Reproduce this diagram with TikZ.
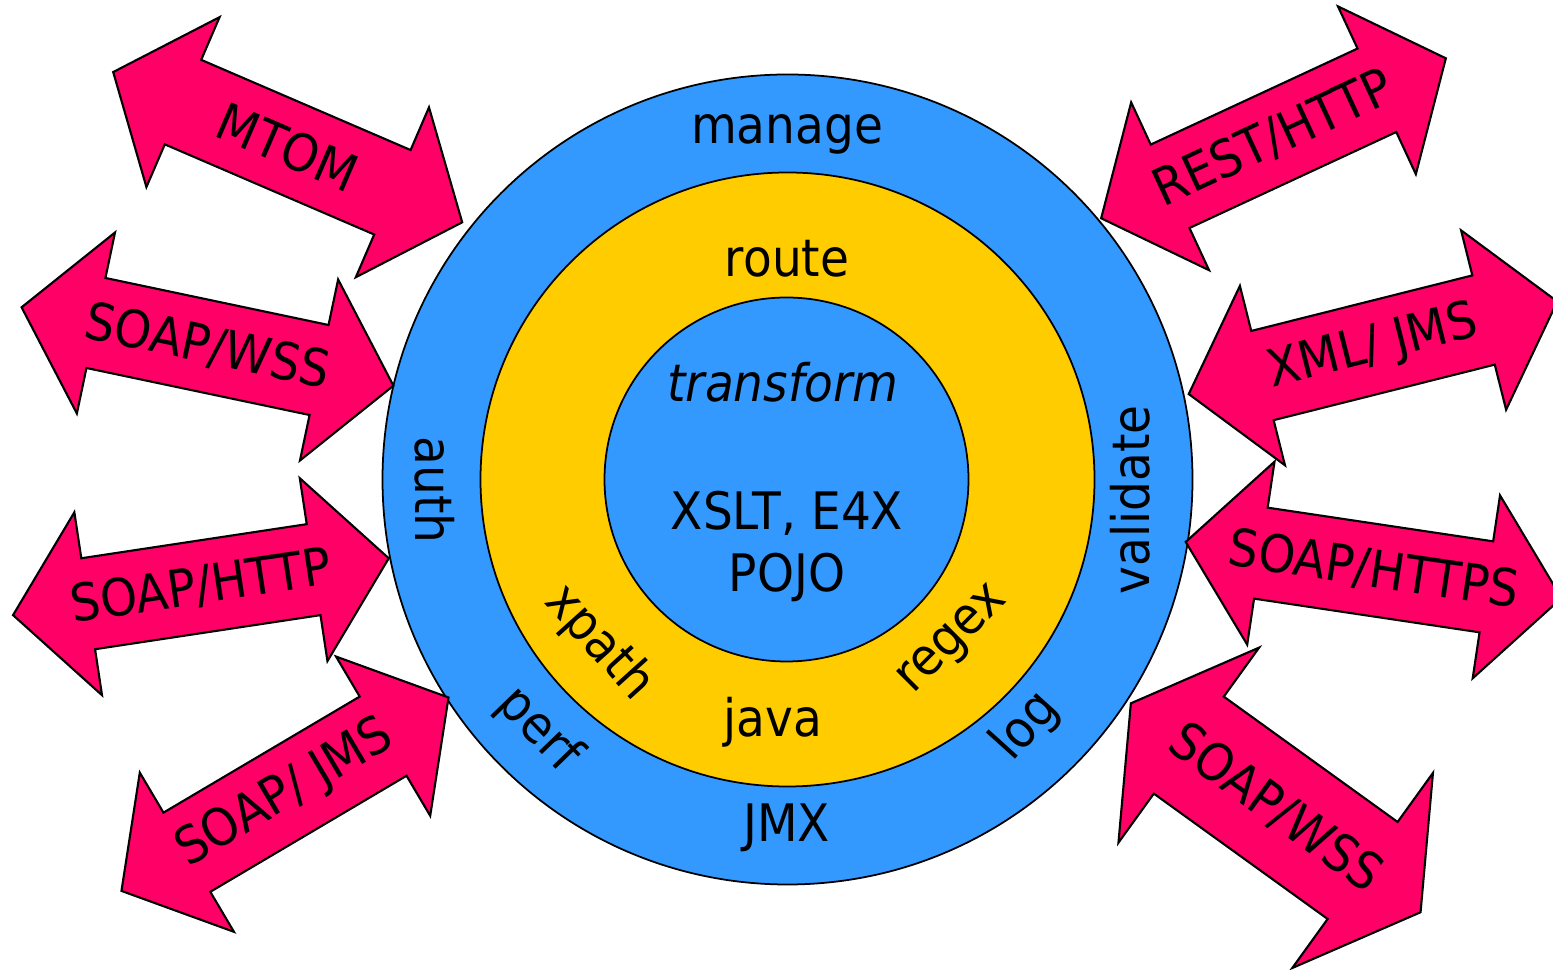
\documentclass[tikz,border=0pt]{standalone}
\usepackage{fontspec}
\setmainfont{DejaVu Sans}[FakeStretch=0.91]

\definecolor{ringblue}{HTML}{3399FF}
\definecolor{ringyellow}{HTML}{FFCC00}
\definecolor{arrowpink}{HTML}{FF0066}

\begin{document}
\begin{tikzpicture}[line width=0.5pt,
    ring/.style={circle,draw,inner sep=0pt},
    word/.style={font=\fontsize{14.7}{17}\selectfont,inner sep=0pt},
    arrowbody/.style={draw,fill=arrowpink,line width=0.6pt,line join=miter}]

    \useasboundingbox (0,0) rectangle (15.53,9.70);

    % the three rings
    \node[ring,fill=ringblue,minimum size=8.10cm] (outer) at (7.875,4.905) {};
    \node[ring,fill=ringyellow,minimum size=6.14cm] (middle) at (7.875,4.905) {};
    \node[ring,fill=ringblue,minimum size=3.64cm] (inner) at (7.865,4.905) {};

    % outer ring
    \node[word,anchor=base] (manage) at (7.87,8.26) {manage};
    \node[word,anchor=base,rotate=-90] (auth) at (4.15,4.80) {auth};
    \node[word,anchor=base,rotate=90] (validate) at (11.49,4.70) {validate};
    \node[word,rotate=-46] (perf) at (5.384,2.40) {perf};
    \node[word,rotate=48] (log) at (10.263,2.433) {log};
    \node[word,anchor=base] (jmx) at (7.865,1.283) {JMX};

    % middle ring
    \node[word,anchor=base] (route) at (7.87,6.93) {route};
    \node[word,rotate=-48] (xpath) at (5.99,3.27) {xpath};
    \node[word,rotate=45] (regex) at (9.545,3.285) {regex};
    \node[word,anchor=base] (java) at (7.73,2.333) {java};

    % inner circle
    \node[word,anchor=base] (transform) at (7.83,5.685) {\itshape transform};
    \node[word,anchor=base] (xslt) at (7.87,4.40) {XSLT, E4X};
    \node[word,anchor=base] (pojo) at (7.87,3.783) {POJO};

    % protocol arrows
    \foreach \x/\y/\r/\sx/\sy/\name/\txt in {
        2.877/8.228/-23.3/1/1/mtom/MTOM,
        2.075/6.235/-11.9/1/1/soapwssl/{SOAP/WSS},
        2.009/3.833/8.6/1/1/soaphttp/{SOAP/HTTP},
        2.850/1.758/30.6/1/1/soapjms/{SOAP/ JMS},
        12.735/8.317/24.9/1/1/resthttp/{REST/HTTP},
        13.730/6.222/14.1/1/1/xmljms/{XML/ JMS},
        13.736/4.000/-8.5/1/1/soaphttps/{SOAP/HTTPS},
        12.757/1.622/-35.8/0.94/1.30/soapwssr/{SOAP/WSS}}
    {
        \draw[arrowbody,shift={(\x,\y)},rotate=\r,xscale=\sx,yscale=\sy]
            (-1.9,0) -- (-1.14,0.925) -- (-1.14,0.46) -- (1.14,0.46) -- (1.14,0.925)
            -- (1.9,0) -- (1.14,-0.925) -- (1.14,-0.46) -- (-1.14,-0.46) -- (-1.14,-0.925) -- cycle;
        \node[word,rotate=\r] (\name) at (\x,\y) {\txt};
    }
\end{tikzpicture}
\end{document}
